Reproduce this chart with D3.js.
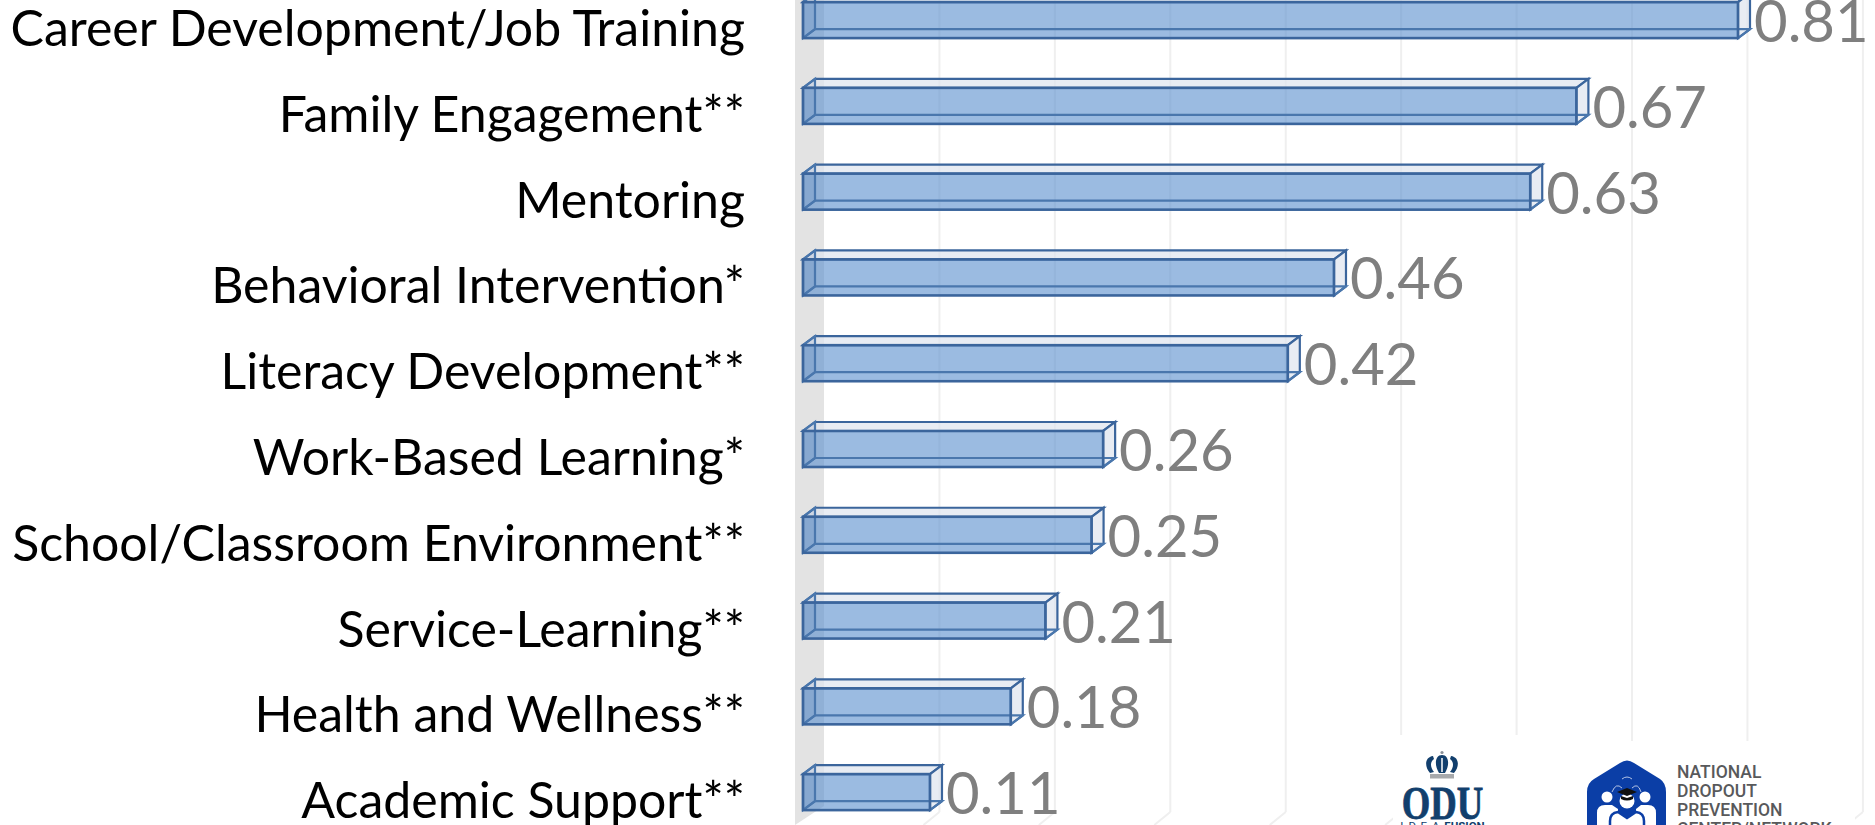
<!DOCTYPE html>
<html>
<head>
<meta charset="utf-8">
<script src="https://cdn.jsdelivr.net/npm/d3@7"></script>
<style>
  html, body { margin: 0; padding: 0; background: #fff; overflow: hidden; }
</style>
</head>
<body>
<div id="container"></div>
<script>
/* DATA */
const categories = [
  'Career Development/Job Training',
  'Family Engagement**',
  'Mentoring',
  'Behavioral Intervention*',
  'Literacy Development**',
  'Work-Based Learning*',
  'School/Classroom Environment**',
  'Service-Learning**',
  'Health and Wellness**',
  'Academic Support**'
]
const effectSizes = [0.81, 0.67, 0.63, 0.46, 0.42, 0.26, 0.25, 0.21, 0.18, 0.11]
const gridTicks = [0, 0.1, 0.2, 0.3, 0.4, 0.5, 0.6, 0.7, 0.8, 0.9]
const dropoutLogoLines = ['NATIONAL', 'DROPOUT', 'PREVENTION', 'CENTER/NETWORK']

/* CONSTANTS */
const width = 1875,
  height = 825,
  barDepth = { x: 12, y: -9 }, // offset of the back face of each bar
  wallOffset = 21 // back wall sits this far right of the front of the bars

const svg = d3.select('#container')
  .append('svg')
  .attr('width', width)
  .attr('height', height)
  .style('display', 'block')

/* SCALES */
const xScale = d3.scaleLinear()
  .domain([0, 0.81])
  .range([803, 1738])

const yScale = d3.scaleBand()
  .domain(categories)
  .range([-22.8, 835])
  .paddingInner(0.58)
  .paddingOuter(0.29)

/* WALLS AND GRID */
const wallX = v => xScale(v) + wallOffset

svg.append('path')
  .attr('d', `M795,0H${wallX(0)}V806L795,825Z`)
  .attr('fill', '#e3e3e3')

svg.selectAll('line.grid')
  .data(gridTicks.slice(1))
  .join('line')
  .attr('class', 'grid')
  .attr('x1', d => wallX(d))
  .attr('x2', d => wallX(d))
  .attr('y1', 0)
  .attr('y2', 812)
  .attr('stroke', '#efefef')
  .attr('stroke-width', 2)

svg.selectAll('line.gridfloor')
  .data(gridTicks.slice(1))
  .join('line')
  .attr('class', 'gridfloor')
  .attr('x1', d => wallX(d))
  .attr('x2', d => wallX(d) - 16)
  .attr('y1', 812)
  .attr('y2', 825)
  .attr('stroke', '#efefef')
  .attr('stroke-width', 2)

/* CATEGORY LABELS */
svg.selectAll('text.cat')
  .data(categories)
  .join('text')
  .attr('class', 'cat')
  .attr('x', 745)
  .attr('y', d => yScale(d) + yScale.bandwidth() / 2 + 26)
  .attr('text-anchor', 'end')
  .attr('font-family', 'Lato, sans-serif')
  .attr('font-size', 50)
  .attr('fill', '#000')
  .text(d => d)

/* BARS */
const bars = svg.selectAll('g.bar')
  .data(effectSizes)
  .join('g')
  .attr('class', 'bar')
  .attr('transform', (d, i) => `translate(0,${yScale(categories[i])})`)

const barH = yScale.bandwidth()
const x0 = xScale(0)
const dx = barDepth.x, dy = barDepth.y

// top face
bars.append('path')
  .attr('d', d => `M${x0},0L${x0 + dx},${dy}H${xScale(d) + dx}L${xScale(d)},0Z`)
  .attr('fill', 'rgba(222,228,238,0.7)')
  .attr('stroke', '#3b659c')
  .attr('stroke-width', 2.2)

// right face
bars.append('path')
  .attr('d', d => `M${xScale(d)},0L${xScale(d) + dx},${dy}V${barH + dy}L${xScale(d)},${barH}Z`)
  .attr('fill', 'rgba(222,228,238,0.7)')
  .attr('stroke', '#3b659c')
  .attr('stroke-width', 2.2)

// front face, the faces behind it only show through as lines
bars.append('rect')
  .attr('x', x0)
  .attr('y', 0)
  .attr('width', d => xScale(d) - x0)
  .attr('height', barH)
  .attr('fill', 'rgba(88,142,205,0.6)')

// left face
bars.append('path')
  .attr('d', `M${x0},0L${x0 + dx},${dy}V${barH + dy}L${x0},${barH}Z`)
  .attr('fill', 'rgba(60,100,160,0.1)')
  .attr('stroke', '#4a77ad')
  .attr('stroke-width', 2.2)

// bottom face
bars.append('path')
  .attr('d', d => `M${x0},${barH}L${x0 + dx},${barH + dy}H${xScale(d) + dx}L${xScale(d)},${barH}`)
  .attr('fill', 'none')
  .attr('stroke', '#4a77ad')
  .attr('stroke-width', 2.2)

// front outline
bars.append('rect')
  .attr('x', x0)
  .attr('y', 0)
  .attr('width', d => xScale(d) - x0)
  .attr('height', barH)
  .attr('fill', 'none')
  .attr('stroke', '#3b659c')
  .attr('stroke-width', 2.6)

/* VALUE LABELS */
svg.selectAll('text.val')
  .data(effectSizes)
  .join('text')
  .attr('class', 'val')
  .attr('x', d => xScale(d) + 16)
  .attr('y', (d, i) => yScale(categories[i]) + barH / 2 + 22)
  .attr('font-family', 'Lato, sans-serif')
  .attr('font-size', 58)
  .attr('fill', '#7f7f7f')
  .text(d => d.toFixed(2))

/* LOGOS */
svg.append('rect')
  .attr('x', 1393)
  .attr('y', 735)
  .attr('width', 230)
  .attr('height', 90)
  .attr('fill', '#fff')
svg.append('rect')
  .attr('x', 1623)
  .attr('y', 741)
  .attr('width', 232)
  .attr('height', 84)
  .attr('fill', '#fff')

// ODU crown and wordmark
const odu = svg.append('g')
odu.append('path')
  .attr('d', 'M1433,756C1425,757 1424,766 1430,773L1434,772C1430,767 1430,762 1434,759ZM1451,756C1459,757 1460,766 1454,773L1450,772C1454,767 1454,762 1450,759ZM1442,755C1435,755 1434,765 1439,773H1445C1450,765 1449,755 1442,755Z')
  .attr('fill', '#123f6d')
odu.append('path')
  .attr('d', 'M1442,758V772')
  .attr('stroke', '#fff')
  .attr('stroke-width', 1.5)
odu.append('circle').attr('cx', 1442).attr('cy', 752.5).attr('r', 1.6).attr('fill', '#8a9099')
odu.append('rect').attr('x', 1430).attr('y', 774).attr('width', 24).attr('height', 4.5).attr('fill', '#a7a9ac')
odu.append('text')
  .attr('transform', 'translate(1442.5,819) scale(1.02,1.3)')
  .attr('text-anchor', 'middle')
  .attr('font-family', '"Liberation Serif", serif')
  .attr('font-weight', 'bold')
  .attr('font-size', 36)
  .attr('fill', '#123f6d')
  .attr('stroke', '#123f6d')
  .attr('stroke-width', 0.6)
  .text('ODU')
const oduSub = odu.append('text')
  .attr('x', 1442.5).attr('y', 830)
  .attr('text-anchor', 'middle')
  .attr('font-family', 'Roboto, sans-serif')
  .attr('font-size', 11.5)
  .attr('fill', '#123f6d')
oduSub.append('tspan').attr('letter-spacing', 1).text('I.D.E.A ')
oduSub.append('tspan').attr('font-weight', 700).text('FUSION')

// dropout prevention badge
const badge = svg.append('g')
badge.append('path')
  .attr('d', 'M1587,792Q1587,783 1594,779L1620,763Q1627,758 1634,763L1660,779Q1666,783 1666,792V830H1587Z')
  .attr('fill', '#0b3ea6')
badge.append('circle').attr('cx', 1607).attr('cy', 797).attr('r', 5.5).attr('fill', '#fff')
badge.append('circle').attr('cx', 1645).attr('cy', 797).attr('r', 5.5).attr('fill', '#fff')
badge.append('circle').attr('cx', 1627).attr('cy', 801).attr('r', 7.5).attr('fill', '#fff')
badge.append('path')
  .attr('d', 'M1597,830V813Q1597,805 1605,805H1612L1618,809V830ZM1656,830V813Q1656,805 1648,805H1641L1636,809V830Z')
  .attr('fill', '#fff')
badge.append('path')
  .attr('d', 'M1610,830V821Q1610,813 1618,812L1627,818L1636,812Q1644,813 1644,821V830Z')
  .attr('fill', '#fff')
  .attr('stroke', '#0b3ea6')
  .attr('stroke-width', 2.5)
badge.append('path')
  .attr('d', 'M1612,792Q1616,782 1622,788M1632,788Q1638,782 1641,792M1622,779Q1627,775 1632,779')
  .attr('fill', 'none')
  .attr('stroke', '#dfe6f5')
  .attr('stroke-width', 0.8)
badge.append('path')
  .attr('d', 'M1617,792L1627,788L1637,792L1627,796ZM1621,796V799Q1627,802 1633,799V796L1627,798Z')
  .attr('fill', '#111')

svg.selectAll('text.ndp')
  .data(dropoutLogoLines)
  .join('text')
  .attr('class', 'ndp')
  .attr('x', 1677)
  .attr('y', (d, i) => 778 + i * 19)
  .attr('font-family', 'Roboto, sans-serif')
  .attr('font-weight', 500)
  .attr('font-size', 17.5)
  .attr('fill', '#58595b')
  .text(d => d)
</script>
</body>
</html>
